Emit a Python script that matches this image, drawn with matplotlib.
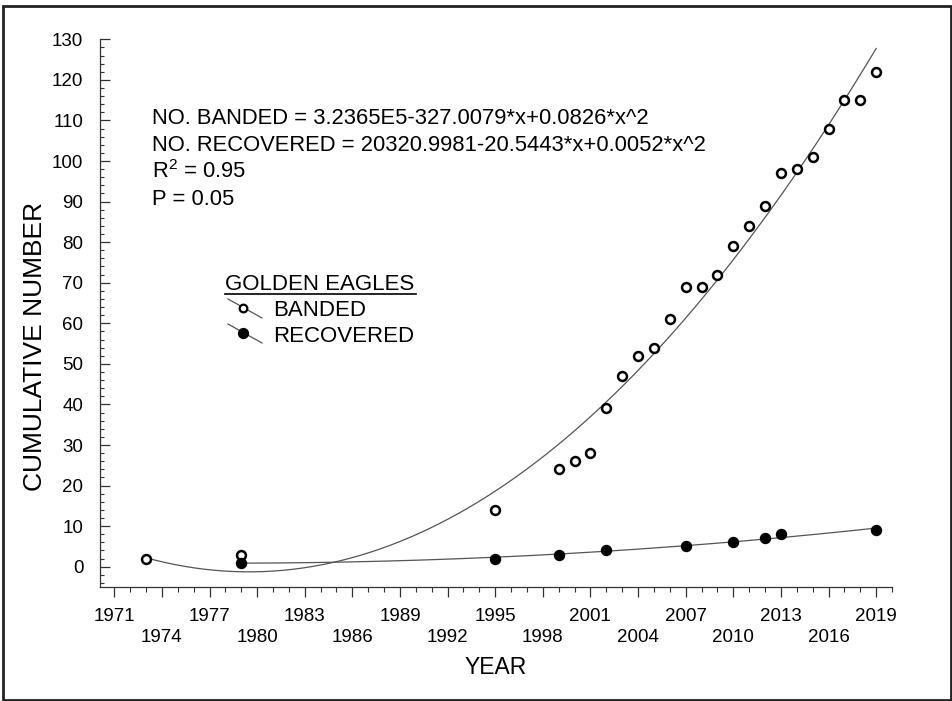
import numpy as np
import matplotlib.pyplot as plt
from matplotlib.lines import Line2D
from matplotlib.patches import Rectangle
from matplotlib.ticker import MultipleLocator, FixedLocator

plt.rcParams['font.family'] = ['Liberation Sans', 'DejaVu Sans']
plt.rcParams['mathtext.fontset'] = 'custom'
plt.rcParams['mathtext.rm'] = 'Liberation Sans'
plt.rcParams['mathtext.it'] = 'Liberation Sans:italic'

# cumulative golden eagle counts
banded_years = [1973, 1979, 1995, 1999, 2000, 2001, 2002, 2003, 2004, 2005, 2006,
                2007, 2008, 2009, 2010, 2011, 2012, 2013, 2014, 2015, 2016, 2017,
                2018, 2019]
banded = [2, 3, 14, 24, 26, 28, 39, 47, 52, 54, 61,
          69, 69, 72, 79, 84, 89, 97, 98, 101, 108, 115,
          115, 122]
recovered_years = [1979, 1995, 1999, 2002, 2007, 2010, 2012, 2013, 2019]
recovered = [1, 2, 3, 4, 5, 6, 7, 8, 9]

year_ticks = list(range(1971, 2020, 3))
eq_lines = ['NO. BANDED = 3.2365E5-327.0079*x+0.0826*x^2',
            'NO. RECOVERED = 20320.9981-20.5443*x+0.0052*x^2',
            'R$^2$ = 0.95',
            'P = 0.05']

W, H = 953, 701
fig = plt.figure(figsize=(W / 100, H / 100), dpi=100)


def px(x, y):
    return x / W, 1 - y / H


ax = fig.add_axes([100 / W, 1 - 587 / H, 792 / W, (587 - 39.3) / H])

# quadratic regression curves
for xs, ys in [(banded_years, banded), (recovered_years, recovered)]:
    coef = np.polyfit(xs, ys, 2)
    xx = np.linspace(min(xs), max(xs), 300)
    ax.plot(xx, np.polyval(coef, xx), color='#555555', lw=0.9, zorder=2)

ax.plot(banded_years, banded, 'o', ms=6.4, mfc='white', mec='black', mew=1.8, zorder=3)
ax.plot(recovered_years, recovered, 'o', ms=7.2, mfc='black', mec='black', mew=1, zorder=4)

ax.set_xlim(1970.1, 2020)
ax.set_ylim(-5, 130)
ax.spines['top'].set_visible(False)
ax.spines['right'].set_visible(False)
for s in ['left', 'bottom']:
    ax.spines[s].set_color('#333333')
    ax.spines[s].set_linewidth(0.9)

ax.xaxis.set_major_locator(FixedLocator(year_ticks))
ax.xaxis.set_minor_locator(MultipleLocator(1))
ax.set_xticklabels([str(y) if i % 2 == 0 else '\n' + str(y) for i, y in enumerate(year_ticks)],
                   linespacing=1.35)
ax.yaxis.set_major_locator(MultipleLocator(10))
ax.yaxis.set_minor_locator(MultipleLocator(2))

ax.tick_params(axis='x', which='major', direction='out', length=7, width=0.9,
               color='#333333', labelsize=13.5, pad=8)
ax.tick_params(axis='x', which='minor', direction='out', length=3.5, width=0.8, color='#333333')
ax.tick_params(axis='y', which='major', direction='in', length=7, width=0.9,
               color='#333333', labelsize=13.5, pad=12)
ax.tick_params(axis='y', which='minor', direction='in', length=3, width=0.8, color='#333333')

fig.text(*px(496, 668), 'YEAR', fontsize=16.5, ha='center', va='center')
fig.text(*px(35, 346), 'CUMULATIVE NUMBER', rotation=90, fontsize=19, ha='center', va='center')

# regression text
for y, line in zip([124, 151, 178, 205], eq_lines):
    fig.text(*px(152, y), line, fontsize=15.8, ha='left', va='baseline')

# legend block
fig.text(*px(225, 290), 'GOLDEN EAGLES', fontsize=16, ha='left', va='baseline')
fig.add_artist(Line2D([225 / W, 416 / W], [1 - 293.5 / H, 1 - 293.5 / H], color='black', lw=1.2,
                      transform=fig.transFigure))
for yc, label, fc, ms in [(308, 'BANDED', 'white', 5.5), (333, 'RECOVERED', 'black', 6.5)]:
    fig.add_artist(Line2D([228 / W, 262 / W], [1 - (yc - 9) / H, 1 - (yc + 10) / H],
                          color='#555555', lw=0.9, transform=fig.transFigure))
    fig.add_artist(Line2D([243.5 / W], [1 - yc / H], marker='o', ms=ms, mfc=fc, mec='black',
                          mew=1.6, transform=fig.transFigure))
    fig.text(*px(273, yc + 8.5), label, fontsize=16, ha='left', va='baseline')

# outer frame
fig.add_artist(Rectangle((3.5 / W, 1.5 / H), 948 / W, 694 / H, fill=False,
                         edgecolor='#222222', lw=2, transform=fig.transFigure))

fig.savefig('out.png', dpi=100)
